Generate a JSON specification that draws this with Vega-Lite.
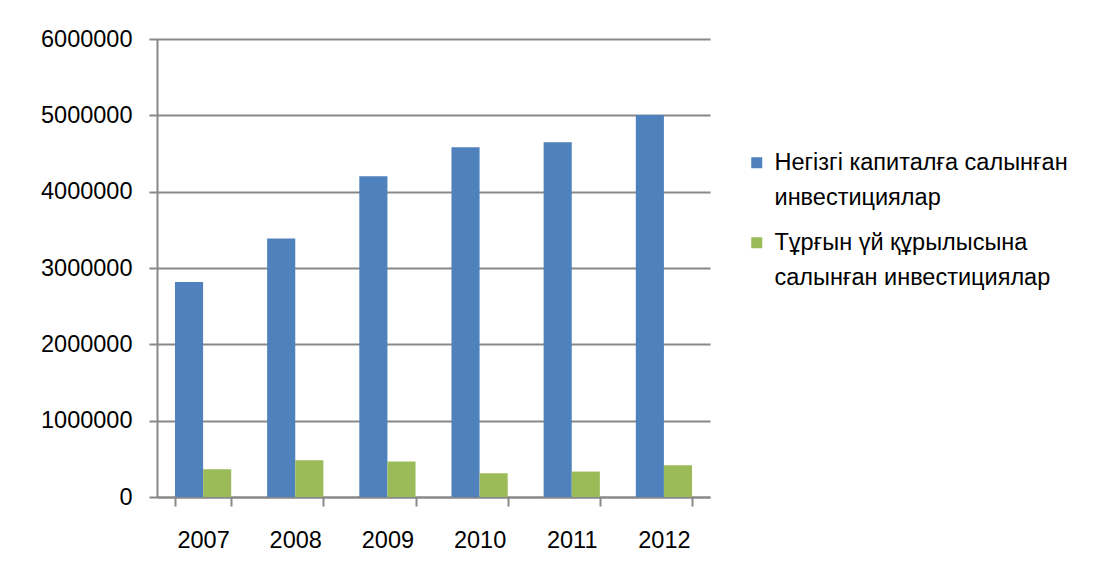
{
  "$schema": "https://vega.github.io/schema/vega-lite/v6.json",
  "width": 553,
  "height": 458,
  "autosize": {"type": "none"},
  "padding": {"left": 157, "top": 39, "right": 383, "bottom": 81},
  "background": "white",
  "config": {"view": {"stroke": null}, "font": "Liberation Sans"},
  "data": {
    "values": [
      {"year": "2007", "series": "Негізгі капиталға салынған инвестициялар", "value": 2817000},
      {"year": "2008", "series": "Негізгі капиталға салынған инвестициялар", "value": 3388000},
      {"year": "2009", "series": "Негізгі капиталға салынған инвестициялар", "value": 4203000},
      {"year": "2010", "series": "Негізгі капиталға салынған инвестициялар", "value": 4582000},
      {"year": "2011", "series": "Негізгі капиталға салынған инвестициялар", "value": 4647000},
      {"year": "2012", "series": "Негізгі капиталға салынған инвестициялар", "value": 5005000},
      {"year": "2007", "series": "Тұрғын үй құрылысына салынған инвестициялар", "value": 363000},
      {"year": "2008", "series": "Тұрғын үй құрылысына салынған инвестициялар", "value": 481000},
      {"year": "2009", "series": "Тұрғын үй құрылысына салынған инвестициялар", "value": 464000},
      {"year": "2010", "series": "Тұрғын үй құрылысына салынған инвестициялар", "value": 311000},
      {"year": "2011", "series": "Тұрғын үй құрылысына салынған инвестициялар", "value": 333000},
      {"year": "2012", "series": "Тұрғын үй құрылысына салынған инвестициялар", "value": 416000}
    ]
  },
  "mark": {"type": "bar"},
  "encoding": {
    "x": {
      "field": "year",
      "type": "nominal",
      "scale": {"paddingInner": 0.39, "paddingOuter": 0.195},
      "axis": {
        "title": null,
        "labelAngle": 0,
        "tickBand": "extent",
        "tickSize": 9,
        "tickWidth": 2,
        "tickColor": "#888888",
        "domainColor": "#888888",
        "domainWidth": 2,
        "labelPadding": 22,
        "labelFontSize": 23.5,
        "labelColor": "#000000",
        "grid": false
      }
    },
    "xOffset": {
      "field": "series",
      "type": "nominal",
      "sort": ["Негізгі капиталға салынған инвестициялар", "Тұрғын үй құрылысына салынған инвестициялар"],
      "scale": {"paddingInner": 0, "paddingOuter": 0}
    },
    "y": {
      "field": "value",
      "type": "quantitative",
      "scale": {"domain": [0, 6000000], "nice": false},
      "axis": {
        "title": null,
        "values": [0, 1000000, 2000000, 3000000, 4000000, 5000000, 6000000],
        "format": "d",
        "tickSize": 8,
        "tickWidth": 2,
        "tickColor": "#888888",
        "domainColor": "#888888",
        "domainWidth": 2,
        "gridColor": "#888888",
        "gridWidth": 2,
        "labelPadding": 17,
        "labelFontSize": 23.5,
        "labelColor": "#000000"
      }
    },
    "color": {
      "field": "series",
      "type": "nominal",
      "sort": ["Негізгі капиталға салынған инвестициялар", "Тұрғын үй құрылысына салынған инвестициялар"],
      "scale": {"range": ["#4F81BD", "#9BBB59"]},
      "legend": {
        "title": null,
        "orient": "none",
        "legendX": 588,
        "legendY": 112,
        "symbolType": "square",
        "symbolSize": 121,
        "symbolStrokeWidth": 0,
        "labelFontSize": 23.5,
        "labelColor": "#000000",
        "labelLimit": 400,
        "labelOffset": 6,
        "rowPadding": 20,
        "labelExpr": "datum.label == 'Негізгі капиталға салынған инвестициялар' ? ['Негізгі капиталға салынған', 'инвестициялар'] : ['Тұрғын үй құрылысына', 'салынған инвестициялар']",
        "encode": {"labels": {"update": {"lineHeight": {"value": 35}}}}
      }
    }
  }
}
